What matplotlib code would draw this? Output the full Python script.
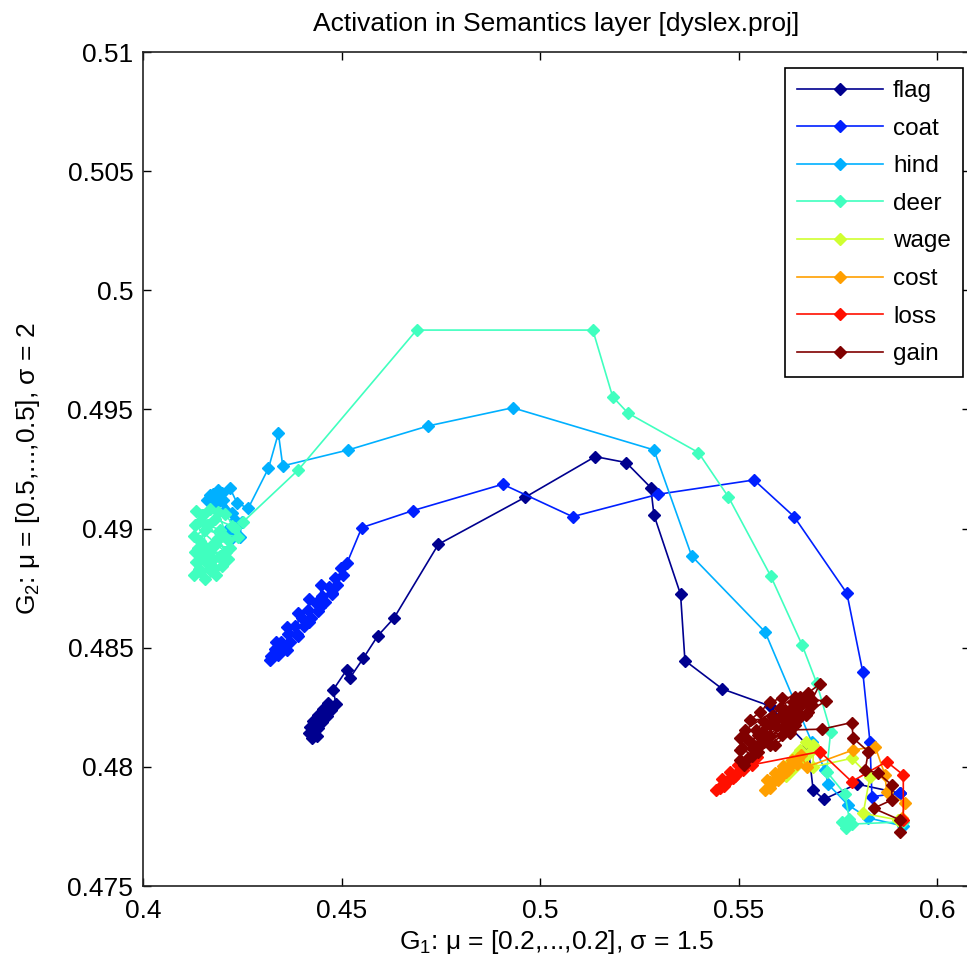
import numpy as np
import matplotlib
matplotlib.use("Agg")
import matplotlib.pyplot as plt

plt.rcParams['font.family'] = ['Liberation Sans', 'DejaVu Sans']
plt.rcParams['mathtext.default'] = 'regular'

words = ['flag', 'coat', 'hind', 'deer', 'wage', 'cost', 'loss', 'gain']

# trajectories (start near the lower right, end in the attractor)
flag_x = [0.5907, 0.5798, 0.5715, 0.5688, 0.5675, 0.5578, 0.5459, 0.5365, 0.5354, 0.5287, 0.5279,
          0.5217, 0.5139, 0.4962, 0.4744, 0.4632, 0.4591, 0.4555, 0.4521, 0.4513, 0.4479, 0.4486,
          0.4466, 0.4474, 0.4453, 0.4463, 0.4441, 0.4451, 0.4428, 0.4441, 0.4421, 0.4431, 0.4418,
          0.4426, 0.4438]
flag_y = [0.47889, 0.47928, 0.47864, 0.47903, 0.48088, 0.48256, 0.48327, 0.48446, 0.48724, 0.49057,
          0.49172, 0.49277, 0.49302, 0.49131, 0.48934, 0.48624, 0.48549, 0.48456, 0.48373, 0.48407,
          0.48323, 0.48264, 0.48268, 0.48239, 0.48243, 0.48214, 0.48218, 0.48188, 0.48193, 0.48163,
          0.48167, 0.48138, 0.48142, 0.48121, 0.48130]

coat_x = [0.5907, 0.5836, 0.5831, 0.5813, 0.5773, 0.5640, 0.5539, 0.5298, 0.5082, 0.4906, 0.4679,
          0.4551, 0.4514, 0.4499, 0.4504, 0.4484, 0.4489, 0.4469, 0.4476, 0.4451, 0.4458, 0.4436,
          0.4441, 0.4416, 0.4423, 0.4401, 0.4406, 0.4383, 0.4388, 0.4365, 0.4370, 0.4348, 0.4355,
          0.4332, 0.4340, 0.4322, 0.4320, 0.4335, 0.4362, 0.4363, 0.4390, 0.4391, 0.4419, 0.4419,
          0.4447, 0.4448, 0.4476]
coat_y = [0.47890, 0.47875, 0.48106, 0.48397, 0.48728, 0.49050, 0.49204, 0.49144, 0.49050, 0.49186,
          0.49075, 0.49004, 0.48856, 0.48835, 0.48805, 0.48793, 0.48763, 0.48755, 0.48726, 0.48717,
          0.48692, 0.48688, 0.48654, 0.48658, 0.48625, 0.48625, 0.48591, 0.48591, 0.48558, 0.48558,
          0.48524, 0.48524, 0.48495, 0.48495, 0.48470, 0.48465, 0.48449, 0.48526, 0.48490, 0.48586,
          0.48550, 0.48646, 0.48610, 0.48706, 0.48670, 0.48765, 0.48729]

hind_x = [0.5914, 0.5826, 0.5776, 0.5725, 0.5718, 0.5684, 0.5567, 0.5382, 0.5287, 0.4931, 0.4719,
          0.4517, 0.4352, 0.4341, 0.4316, 0.4265, 0.4237, 0.4219, 0.4189, 0.4169, 0.4161, 0.4176,
          0.4202, 0.4224, 0.4249, 0.4244, 0.4224, 0.4212, 0.4232, 0.4207, 0.4189, 0.4176, 0.4199]
hind_y = [0.47752, 0.47786, 0.47840, 0.47928, 0.47987, 0.48106, 0.48566, 0.48885, 0.49330, 0.49507,
          0.49431, 0.49330, 0.49263, 0.49400, 0.49253, 0.49085, 0.49107, 0.49170, 0.49162, 0.49141,
          0.49120, 0.49091, 0.49120, 0.49065, 0.49028, 0.48965, 0.48961, 0.48994, 0.49036, 0.49078,
          0.49112, 0.49145, 0.49150]

deer_x = [0.5914, 0.5786, 0.5771, 0.5761, 0.5779, 0.5768, 0.5722, 0.5732, 0.5697, 0.5660, 0.5581,
          0.5474, 0.5399, 0.5222, 0.5183, 0.5133, 0.4689, 0.4391, 0.4252, 0.4232, 0.4207, 0.4169,
          0.4134, 0.4144, 0.4181, 0.4224, 0.4239, 0.4199, 0.4156, 0.4128, 0.4139, 0.4181, 0.4219,
          0.4214, 0.4174, 0.4134, 0.4128, 0.4156, 0.4184, 0.4199, 0.4169, 0.4144, 0.4164, 0.4194,
          0.4174, 0.4154, 0.4141, 0.4179, 0.4161, 0.4149, 0.4189, 0.4209, 0.4131, 0.4146, 0.4151,
          0.4189, 0.4214, 0.4159, 0.4194, 0.4144, 0.4169, 0.4207, 0.4131]
deer_y = [0.47769, 0.47760, 0.47744, 0.47769, 0.47781, 0.47886, 0.47980, 0.48148, 0.48351, 0.48512,
          0.48801, 0.49134, 0.49319, 0.49484, 0.49553, 0.49833, 0.49833, 0.49246, 0.49028, 0.49003,
          0.49061, 0.49082, 0.49074, 0.49032, 0.49040, 0.49011, 0.48965, 0.48977, 0.48994, 0.48969,
          0.48919, 0.48931, 0.48919, 0.48872, 0.48868, 0.48860, 0.48805, 0.48789, 0.48805, 0.48843,
          0.48902, 0.48948, 0.49015, 0.48994, 0.48931, 0.48877, 0.48830, 0.48835, 0.48856, 0.49055,
          0.48960, 0.48900, 0.48900, 0.48820, 0.49057, 0.49070, 0.48952, 0.48919, 0.48885, 0.48889,
          0.48826, 0.48902, 0.49015]

wage_x = [0.5902, 0.5814, 0.5831, 0.5785, 0.5688, 0.5688, 0.5670, 0.5680, 0.5655, 0.5665, 0.5642,
          0.5650, 0.5630, 0.5635, 0.5615, 0.5620, 0.5605]
wage_y = [0.47777, 0.47805, 0.47959, 0.48036, 0.48000, 0.48092, 0.48105, 0.48063, 0.48071, 0.48038,
          0.48046, 0.48012, 0.48021, 0.47987, 0.47995, 0.47962, 0.47970]

cost_x = [0.5912, 0.5919, 0.5873, 0.5869, 0.5844, 0.5789, 0.5672, 0.5657, 0.5647, 0.5635, 0.5625,
          0.5612, 0.5605, 0.5592, 0.5584, 0.5572, 0.5567, 0.5579, 0.5599, 0.5620, 0.5640, 0.5630,
          0.5605, 0.5579, 0.5650, 0.5592]
cost_y = [0.47786, 0.47847, 0.47896, 0.47966, 0.48085, 0.48071, 0.48000, 0.48050, 0.48012, 0.48029,
          0.47987, 0.48004, 0.47958, 0.47974, 0.47932, 0.47945, 0.47903, 0.47911, 0.47945, 0.47979,
          0.48021, 0.48008, 0.47979, 0.47937, 0.48037, 0.47949]

loss_x = [0.5915, 0.5915, 0.5873, 0.5785, 0.5705, 0.5511, 0.5547, 0.5534, 0.5524, 0.5511, 0.5499,
          0.5491, 0.5479, 0.5471, 0.5458, 0.5453, 0.5443, 0.5463, 0.5486, 0.5509, 0.5529, 0.5504,
          0.5479, 0.5458]
loss_y = [0.47777, 0.47966, 0.48022, 0.47938, 0.48064, 0.48001, 0.48042, 0.48008, 0.48029, 0.47987,
          0.48008, 0.47962, 0.47979, 0.47937, 0.47949, 0.47911, 0.47903, 0.47920, 0.47953, 0.48004,
          0.48021, 0.47987, 0.47953, 0.47924]

gain_x = [0.5907, 0.5907, 0.5840, 0.5886, 0.5886, 0.5851, 0.5819, 0.5827, 0.5789, 0.5785, 0.5710,
          0.5630, 0.5675, 0.5720, 0.5685, 0.5705, 0.5675, 0.5655, 0.5685, 0.5647, 0.5637, 0.5617,
          0.5652, 0.5620, 0.5605, 0.5584, 0.5615, 0.5579, 0.5564, 0.5544, 0.5574, 0.5534, 0.5519,
          0.5509, 0.5534, 0.5504, 0.5514, 0.5554, 0.5592, 0.5642, 0.5668, 0.5529, 0.5559, 0.5592,
          0.5625, 0.5655, 0.5549, 0.5579, 0.5610, 0.5642, 0.5670, 0.5524, 0.5567, 0.5630, 0.5529,
          0.5554, 0.5579, 0.5610, 0.5642, 0.5516, 0.5504, 0.5592, 0.5630, 0.5549, 0.5579, 0.5610,
          0.5504]
gain_y = [0.47728, 0.47777, 0.47826, 0.47861, 0.47924, 0.47974, 0.47987, 0.48064, 0.48120, 0.48186,
          0.48158, 0.48155, 0.48230, 0.48277, 0.48281, 0.48348, 0.48310, 0.48293, 0.48260, 0.48230,
          0.48272, 0.48239, 0.48205, 0.48188, 0.48247, 0.48214, 0.48163, 0.48130, 0.48188, 0.48155,
          0.48105, 0.48079, 0.48121, 0.48079, 0.48046, 0.48029, 0.48008, 0.48092, 0.48176, 0.48256,
          0.48281, 0.48105, 0.48146, 0.48197, 0.48230, 0.48256, 0.48063, 0.48092, 0.48134, 0.48176,
          0.48218, 0.48037, 0.48121, 0.48205, 0.48197, 0.48230, 0.48272, 0.48289, 0.48293, 0.48155,
          0.48121, 0.48092, 0.48142, 0.48134, 0.48176, 0.48218, 0.48071]

xs = [flag_x, coat_x, hind_x, deer_x, wage_x, cost_x, loss_x, gain_x]
ys = [flag_y, coat_y, hind_y, deer_y, wage_y, cost_y, loss_y, gain_y]

xticks = [0.4, 0.45, 0.5, 0.55, 0.6]
xtick_labels = ['0.4', '0.45', '0.5', '0.55', '0.6']
yticks = [0.475, 0.48, 0.485, 0.49, 0.495, 0.5, 0.505, 0.51]
ytick_labels = ['0.475', '0.48', '0.485', '0.49', '0.495', '0.5', '0.505', '0.51']

# jet-like colours, one per word
colors = [(0, 0, 0.56), (0, 0.125, 1), (0, 0.69, 1), (0.25, 1, 0.75),
          (0.81, 1, 0.19), (1, 0.625, 0), (1, 0.06, 0), (0.5, 0, 0)]

fig = plt.figure(figsize=(9.67, 9.68), dpi=100)
ax = fig.add_axes([143 / 967, 1 - 886 / 968, 827 / 967, 834 / 968])

for w, x, y, c in zip(words, xs, ys, colors):
    ax.plot(x, y, '-', color=c, lw=1.2, marker='D', ms=6.5, mec=c, mfc=c, label=w)

ax.set_xlim(0.4, 0.6083)
ax.set_ylim(0.475, 0.51)
ax.set_xticks(xticks)
ax.set_xticklabels(xtick_labels)
ax.set_yticks(yticks)
ax.set_yticklabels(ytick_labels)
ax.tick_params(direction='in', length=6, width=1, top=True, right=True, labelsize=19, colors='black')
ax.tick_params(axis='x', pad=9)
ax.tick_params(axis='y', pad=7)
for s in ax.spines.values():
    s.set_linewidth(1.2)
    s.set_color('#222222')

ax.set_title('Activation in Semantics layer [dyslex.proj]', fontsize=19, pad=15)
ax.set_xlabel(r'G$_1$: μ = [0.2,...,0.2], σ = 1.5', fontsize=19)
ax.set_ylabel(r'G$_2$: μ = [0.5,...,0.5], σ = 2', fontsize=19)
ax.xaxis.set_label_coords(0.5, (886 - 928) / 834)
ax.yaxis.set_label_coords((42 - 143) / 827, 0.5)

leg = ax.legend(loc='upper right', bbox_to_anchor=(963 / 967, 1 - 68 / 968),
                bbox_transform=fig.transFigure, borderaxespad=0, fancybox=False,
                framealpha=1, edgecolor='black', fontsize=17.5, numpoints=1,
                handlelength=3.55, labelspacing=0.64, handletextpad=0.4, borderpad=0.5)
leg.get_frame().set_linewidth(1.2)

fig.savefig('out.png', dpi=100)
